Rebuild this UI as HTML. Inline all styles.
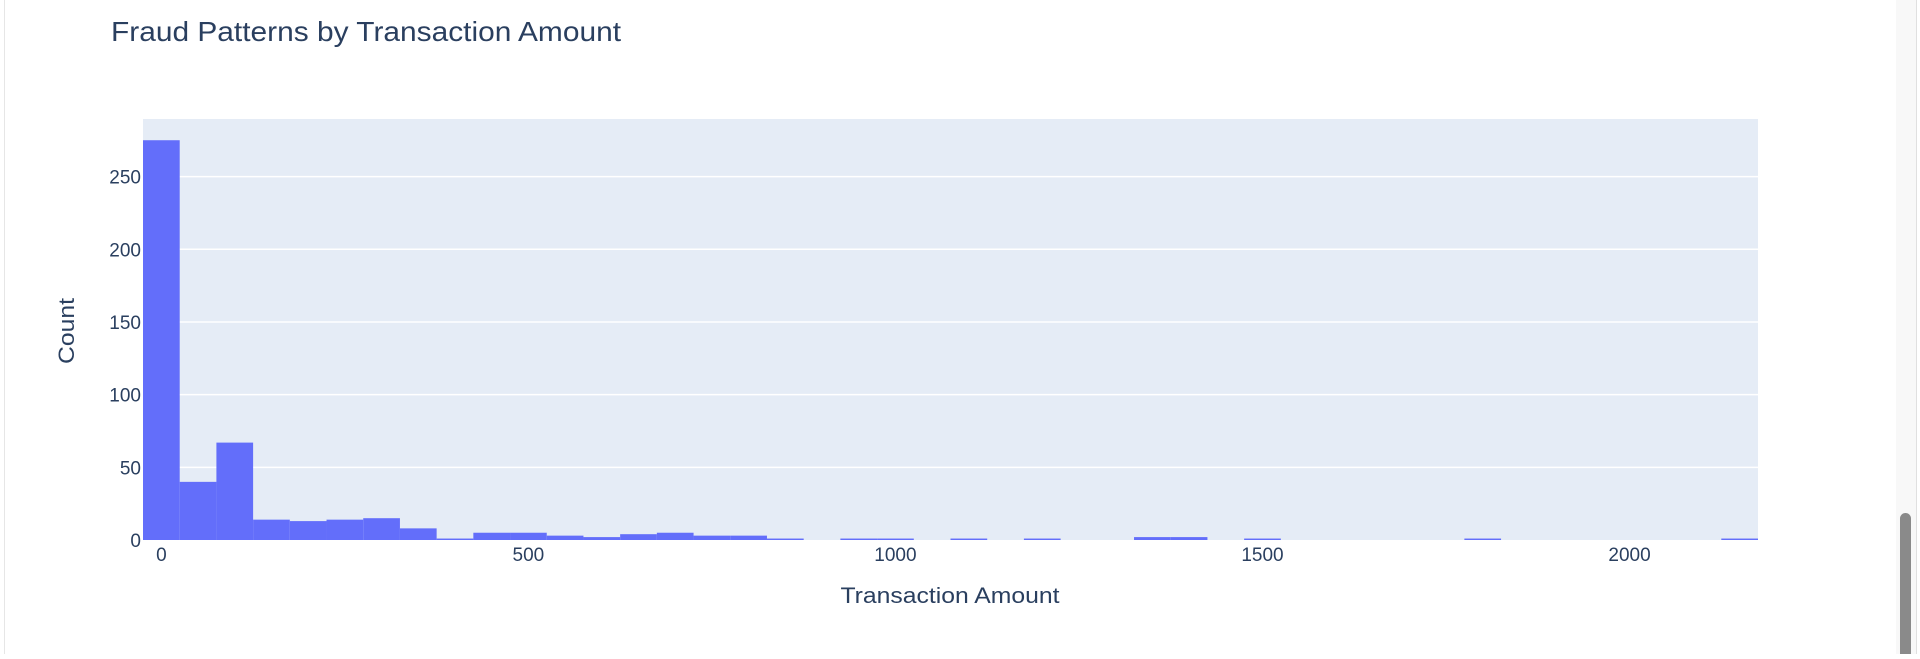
<!DOCTYPE html>
<html><head><meta charset="utf-8"><style>
html,body{margin:0;padding:0;width:1920px;height:654px;overflow:hidden;background:#fff;font-family:"Liberation Sans","DejaVu Sans",sans-serif;}
#wrap{position:absolute;left:0;top:0;width:1920px;height:654px;}
</style></head><body>
<div id="wrap">
<svg id="chart" width="1920" height="654" xmlns="http://www.w3.org/2000/svg">
<rect x="0" y="0" width="1920" height="654" fill="#fff"/>
<line x1="4.5" y1="0" x2="4.5" y2="654" stroke="#e6e6e6" stroke-width="1"/>
<rect x="1896" y="0" width="20" height="654" fill="#f8f8f8"/>
<line x1="1916.5" y1="0" x2="1916.5" y2="654" stroke="#e0e0e0"/>
<rect x="1900" y="513" width="11" height="160" rx="5.5" fill="#8a8a8a"/>
<text x="111" y="41" font-size="28" textLength="510" lengthAdjust="spacingAndGlyphs" fill="#2a3f5f">Fraud Patterns by Transaction Amount</text>
<rect id="plotbg" fill="#e5ecf6"/>
<g id="grid"></g>
<g id="bars"></g>
<g id="yticks"></g>
<g id="xticks"></g>
<text x="950" y="603" font-size="22" textLength="219" lengthAdjust="spacingAndGlyphs" fill="#2a3f5f" text-anchor="middle">Transaction Amount</text>
<text x="0" y="0" font-size="22" textLength="66" lengthAdjust="spacingAndGlyphs" fill="#2a3f5f" text-anchor="middle" transform="translate(74,331) rotate(-90)">Count</text>
</svg>
</div>
<script>
const binStart = -25;
const binWidth = 50;
const counts = [275,40,67,14,13,14,15,8,1,5,5,3,2,4,5,3,3,1,0,1,1,0,1,0,1,0,0,2,2,0,1,0,0,0,0,0,1,0,0,0,0,0,0,1];
const yTicks = [0,50,100,150,200,250];
const xTicks = [0,500,1000,1500,2000];
const xMin = -25, xMax = 2175, yMax = 289.6;
const L = 143, R = 1758, T = 119, B = 540;
const NS = "http://www.w3.org/2000/svg";
function xs(v){return L + (v - xMin) / (xMax - xMin) * (R - L);}
function ys(v){return B - v / yMax * (B - T);}
function mk(tag, attrs){const e=document.createElementNS(NS,tag);for(const k in attrs)e.setAttribute(k,attrs[k]);return e;}
const bg=document.getElementById('plotbg');
bg.setAttribute('x',L);bg.setAttribute('y',T);bg.setAttribute('width',R-L);bg.setAttribute('height',B-T);
const grid=document.getElementById('grid'), yt=document.getElementById('yticks'), xt=document.getElementById('xticks'), bars=document.getElementById('bars');
yTicks.forEach(t=>{
  const y=ys(t);
  if(t>0){
    const g=mk('line',{x1:L,x2:R,y1:y,y2:y,stroke:'#fff','stroke-width':1.5});
    
    
    grid.appendChild(g);
  }
  const tx=mk('text',{x:141,y:y+7,'font-size':19,fill:'#2a3f5f','text-anchor':'end'});
  tx.textContent=t;
  
  
  yt.appendChild(tx);
});
xTicks.forEach(t=>{
  const tx=mk('text',{x:xs(t),y:561,'font-size':19,fill:'#2a3f5f','text-anchor':'middle'});
  tx.textContent=t;
  
  
  xt.appendChild(tx);
});
counts.forEach((c,i)=>{
  if(c<=0)return;
  const x0=xs(binStart+i*binWidth), x1=xs(binStart+(i+1)*binWidth);
  const r=mk('rect',{x:x0,y:ys(c),width:x1-x0,height:B-ys(c),fill:'#636efa'});
  
  
  bars.appendChild(r);
});
</script>
</body></html>
